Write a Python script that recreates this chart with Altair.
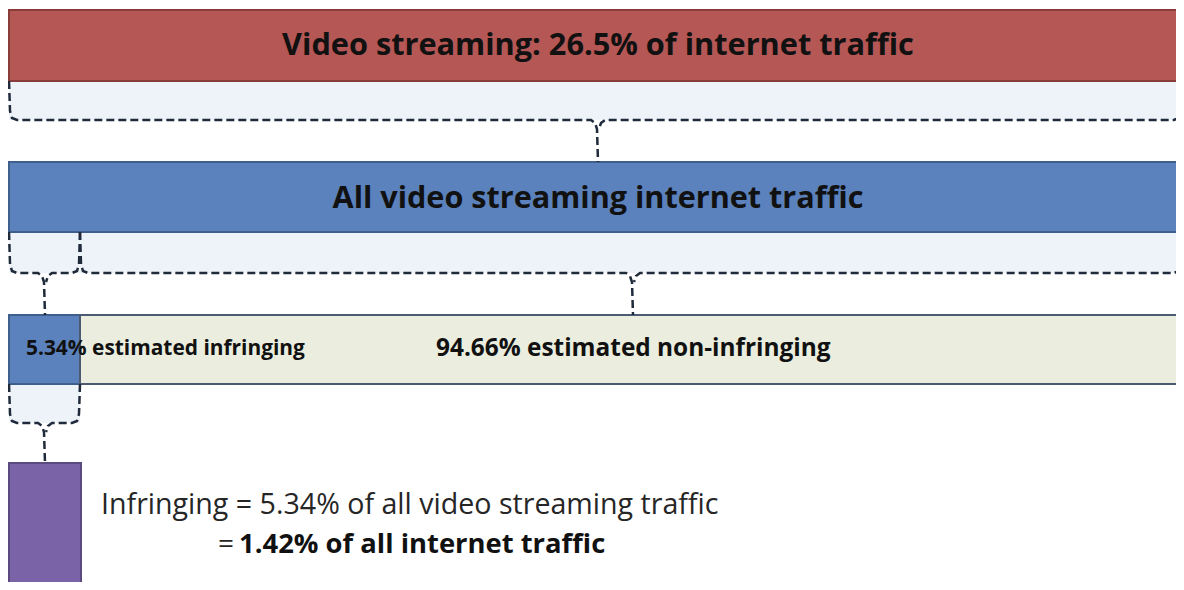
import altair as alt
import pandas as pd

# ---- content (values shown in the diagram) ----
video_share_of_internet = 26.5       # % of internet traffic that is video streaming
infringing_share_of_video = 5.34     # % of video streaming estimated infringing
non_infringing_share_of_video = 94.66
infringing_share_of_internet = 1.42  # % of all internet traffic

box_names = ["video", "all_video", "infringing", "non_infringing", "infringing_total"]
box_fills = ["#b45755", "#5b82bc", "#5b82bc", "#ebeede", "#7b63a7"]
box_strokes = ["#8a3c3a", "#3f5f8c", "#3f5f8c", "#4d5b72", "#5b4a80"]

# ---- layout, in diagram units (one unit = one pixel of the 1184x590 page) ----
box_left = [9, 9, 9, 80, 9]
box_right = [1192, 1192, 80, 1192, 81]
box_top = [10, 162, 315, 315, 463]
box_bottom = [81, 232, 384, 384, 600]

br_left = [9, 9, 80, 9]
br_right = [1182, 80, 1182, 80]
br_center = [598, 45, 633, 45]
br_top = [81, 232, 232, 384]
br_bottom = [120, 273, 273, 423]
br_next = [162, 315, 315, 463]

boxes = pd.DataFrame(dict(name=box_names, x0=box_left, x1=box_right,
                          y0=box_top, y1=box_bottom, fill=box_fills, stroke=box_strokes))

# bracket background bands
bands = pd.DataFrame(dict(x0=br_left, x1=br_right, y0=br_top, y1=br_bottom))

# bracket outline paths (curly-brace shape), built from the bracket parameters
rows = []
for i, (l, r, c, t, b, n) in enumerate(zip(br_left, br_right, br_center, br_top, br_bottom, br_next)):
    left_path = [(l, t), (l + 1, b - 9), (l + 3, b - 2), (l + 8, b), (c - 7, b),
                 (c - 3, b + 3), (c - 1, b + 9), (c, n)]
    right_path = [(r, t), (r - 1, b - 9), (r - 3, b - 2), (r - 8, b), (c + 7, b),
                  (c + 3, b + 3), (c + 1, b + 9)]
    for k, (px, py) in enumerate(left_path):
        rows.append(dict(id=f"{i}L", order=k, x=px, y=py))
    for k, (px, py) in enumerate(right_path):
        rows.append(dict(id=f"{i}R", order=k, x=px, y=py))
paths = pd.DataFrame(rows)

# texts
center_texts = pd.DataFrame(dict(
    text=[f"Video streaming: {video_share_of_internet}% of internet traffic",
          "All video streaming internet traffic"],
    x=[598, 598], y=[46, 199], size=[30.7, 30.6]))
left_bold = pd.DataFrame(dict(
    text=[f"{infringing_share_of_video}% estimated infringing",
          f"{non_infringing_share_of_video}% estimated non-infringing",
          f"{infringing_share_of_internet}% of all internet traffic"],
    x=[26, 436, 239], y=[349, 349, 545], size=[20.9, 24.4, 27.4]))
left_regular = pd.DataFrame(dict(
    text=[f"Infringing = {infringing_share_of_video}% of all video streaming traffic", "="],
    x=[101, 218], y=[505, 545], size=[28.6, 28]))

xs = alt.Scale(domain=[8, 1176], nice=False, zero=False)
ys = alt.Scale(domain=[8, 582], nice=False, zero=False, reverse=True)

band_layer = alt.Chart(bands).mark_rect(color="#eef2f9", clip=True).encode(
    x=alt.X("x0:Q", scale=xs, axis=None), x2="x1:Q",
    y=alt.Y("y0:Q", scale=ys, axis=None), y2="y1:Q")

box_layer = alt.Chart(boxes).mark_rect(strokeWidth=2, clip=True).encode(
    x=alt.X("x0:Q", scale=xs, axis=None), x2="x1:Q",
    y=alt.Y("y0:Q", scale=ys, axis=None), y2="y1:Q",
    fill=alt.Fill("fill:N", scale=None),
    stroke=alt.Stroke("stroke:N", scale=None))

path_layer = alt.Chart(paths).mark_line(color="#1f2b3b", strokeWidth=2.5,
                                         strokeDash=[8, 4], clip=True).encode(
    x=alt.X("x:Q", scale=xs, axis=None),
    y=alt.Y("y:Q", scale=ys, axis=None),
    detail="id:N", order="order:Q")

font = "Open Sans"
t_center = alt.Chart(center_texts).mark_text(font=font, fontWeight="bold", align="center",
                                             baseline="middle", color="#111111").encode(
    x=alt.X("x:Q", scale=xs, axis=None), y=alt.Y("y:Q", scale=ys, axis=None),
    text="text:N", size=alt.Size("size:Q", scale=None))
t_bold = alt.Chart(left_bold).mark_text(font=font, fontWeight="bold", align="left",
                                        baseline="middle", color="#111111").encode(
    x=alt.X("x:Q", scale=xs, axis=None), y=alt.Y("y:Q", scale=ys, axis=None),
    text="text:N", size=alt.Size("size:Q", scale=None))
t_reg = alt.Chart(left_regular).mark_text(font=font, align="left",
                                          baseline="middle", color="#262626").encode(
    x=alt.X("x:Q", scale=xs, axis=None), y=alt.Y("y:Q", scale=ys, axis=None),
    text="text:N", size=alt.Size("size:Q", scale=None))

chart = alt.layer(band_layer, box_layer, path_layer, t_center, t_bold, t_reg).properties(
    width=1168, height=574, padding=0, autosize="none", background="white"
).configure_view(stroke=None)

chart.save("out.html", embed_options={"renderer": "svg", "actions": False})
